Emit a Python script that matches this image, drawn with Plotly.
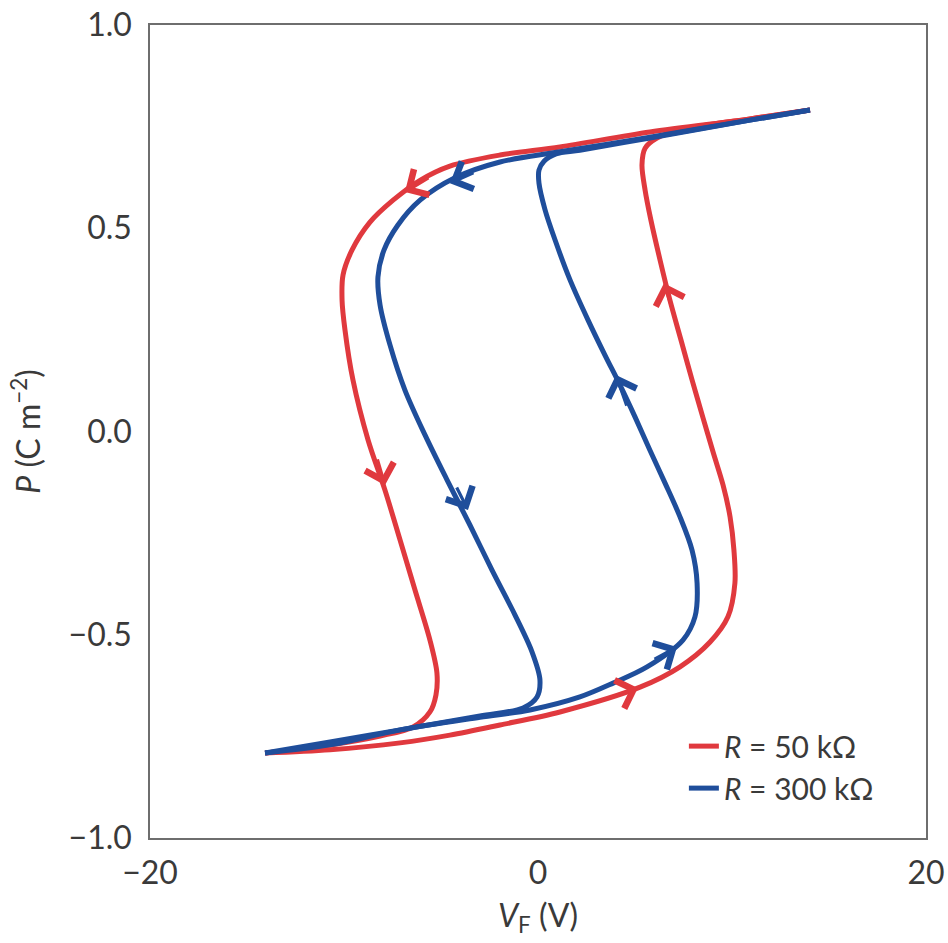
import plotly.graph_objects as go

# ---------------- data ----------------
# R = 50 kOhm, descending branch (from +Vmax to -Vmax)
red_down_v = [14.02, 10.93, 5.77, 1.13, -1.96, -4.54, -6.08, -7.47, -8.66, -9.59, -10.05,
              -10.10, -9.95, -9.54, -8.76, -7.89, -7.11, -6.34, -5.57, -5.21, -5.26, -5.57,
              -6.44, -8.14, -10.72, -14.07]
red_down_p = [0.791, 0.769, 0.737, 0.700, 0.680, 0.653, 0.618, 0.569, 0.515, 0.446, 0.385,
              0.323, 0.250, 0.127, -0.021, -0.144, -0.267, -0.390, -0.513, -0.594, -0.648, -0.690,
              -0.727, -0.749, -0.771, -0.791]
# R = 50 kOhm, ascending branch
red_up_v = [-14.07, -10.72, -7.11, -4.54, -1.96, 1.13, 5.26, 7.32, 8.87, 9.79, 10.15, 10.10,
            9.90, 9.54, 9.02, 8.51, 7.94, 7.37, 6.80, 6.29, 5.82, 5.52, 5.36, 5.52, 6.13,
            7.32, 10.93, 14.02]
red_up_p = [-0.791, -0.783, -0.766, -0.747, -0.722, -0.690, -0.629, -0.579, -0.518, -0.456,
            -0.373, -0.292, -0.210, -0.132, -0.050, 0.033, 0.127, 0.225, 0.323, 0.422, 0.520,
            0.594, 0.656, 0.697, 0.722, 0.742, 0.769, 0.791]

# R = 300 kOhm, descending branch
blue_down_v = [14.02, 10.93, 5.77, 1.13, -1.96, -4.28, -6.08, -7.22, -7.94, -8.25, -8.14,
               -7.63, -6.86, -5.82, -4.69, -3.51, -2.37, -1.19, -0.31, 0.10, -0.05, -0.77,
               -2.99, -7.11, -10.72, -14.07]
blue_down_p = [0.791, 0.766, 0.724, 0.688, 0.663, 0.624, 0.569, 0.508, 0.446, 0.380, 0.311,
               0.213, 0.102, -0.009, -0.119, -0.230, -0.341, -0.451, -0.542, -0.611, -0.653,
               -0.680, -0.700, -0.734, -0.764, -0.791]
# R = 300 kOhm, ascending branch
blue_up_v = [-14.07, -10.72, -7.11, -2.99, -0.41, 2.16, 3.87, 5.62, 7.47, 8.09, 8.20, 7.94,
             7.32, 6.55, 5.77, 5.00, 4.23, 3.45, 2.58, 1.65, 0.88, 0.36, 0.05, 0.05, 0.31,
             0.93, 2.16, 5.77, 10.93, 14.02]
blue_up_p = [-0.791, -0.771, -0.734, -0.703, -0.685, -0.653, -0.619, -0.579, -0.513, -0.456,
             -0.373, -0.292, -0.210, -0.127, -0.046, 0.036, 0.114, 0.188, 0.274, 0.373, 0.471,
             0.546, 0.611, 0.643, 0.665, 0.683, 0.692, 0.722, 0.766, 0.791]

# direction arrows: tip (x, y) and a point just before it along the loop (tail)
red_arrow_tip_v = [-6.86, -7.89, 5.15, 6.49]
red_arrow_tip_p = [0.589, -0.132, -0.631, 0.365]
red_arrow_tail_v = [-5.57, -8.30, 3.81, 6.91]
red_arrow_tail_p = [0.626, -0.065, -0.653, 0.304]

blue_arrow_tip_v = [-4.54, -3.61, 7.16, 4.02]
blue_arrow_tip_p = [0.611, -0.193, -0.530, 0.139]
blue_arrow_tail_v = [-3.25, -4.23, 5.93, 4.60]
blue_arrow_tail_p = [0.638, -0.134, -0.562, 0.060]

series_names = ["<i>R</i> = 50 kΩ", "<i>R</i> = 300 kΩ"]
x_ticks = [-20, 0, 20]
y_ticks = [1.0, 0.5, 0.0, -0.5, -1.0]

RED = "#e0393e"
BLUE = "#1f4e9b"
FONT = "Lato"
TXT = "#3a3a3a"

fig = go.Figure()

def add_branch(vx, py, color, name, show):
    fig.add_trace(go.Scatter(
        x=vx, y=py, mode="lines", name=name, legendgroup=name, showlegend=show,
        line=dict(color=color, width=5, shape="spline", smoothing=0.9),
        hoverinfo="skip",
    ))

add_branch(red_down_v, red_down_p, RED, series_names[0], True)
add_branch(red_up_v, red_up_p, RED, series_names[0], False)
add_branch(blue_down_v, blue_down_p, BLUE, series_names[1], True)
add_branch(blue_up_v, blue_up_p, BLUE, series_names[1], False)

annotations = []
for tv, tp, av, ap, col in (
    [(a, b, c, d, RED) for a, b, c, d in zip(red_arrow_tip_v, red_arrow_tip_p, red_arrow_tail_v, red_arrow_tail_p)]
    + [(a, b, c, d, BLUE) for a, b, c, d in zip(blue_arrow_tip_v, blue_arrow_tip_p, blue_arrow_tail_v, blue_arrow_tail_p)]
):
    annotations.append(dict(
        x=tv, y=tp, ax=av, ay=ap, xref="x", yref="y", axref="x", ayref="y",
        text="", showarrow=True, arrowhead=4, arrowsize=1.8, arrowwidth=3.2,
        arrowcolor=col, standoff=0, startstandoff=0,
    ))

fig.update_layout(
    width=948, height=943,
    margin=dict(l=150, r=22, t=25, b=105),
    paper_bgcolor="white", plot_bgcolor="white",
    font=dict(family=FONT, size=32, color=TXT),
    showlegend=True,
    legend=dict(
        x=0.688, y=0.145, xanchor="left", yanchor="top",
        bgcolor="rgba(0,0,0,0)", borderwidth=0,
        font=dict(family=FONT, size=30, color=TXT),
        itemwidth=30, tracegroupgap=0,
    ),
    annotations=annotations,
)

fig.update_xaxes(
    range=[-20, 20], tickvals=x_ticks, ticktext=["−20", "0", "20"],
    showline=True, linecolor="#6e6e6e", linewidth=1.5, mirror=True,
    showgrid=False, zeroline=False, ticks="", ticklabelstandoff=6, automargin=False,
    tickfont=dict(family=FONT, size=32, color=TXT),
    title=dict(text="<i>V</i><sub>F</sub> (V)", font=dict(family=FONT, size=32, color=TXT), standoff=14),
)
fig.update_yaxes(
    range=[-1.0, 1.0], tickvals=y_ticks, tickformat=".1f",
    showline=True, linecolor="#6e6e6e", linewidth=1.5, mirror=True,
    showgrid=False, zeroline=False, ticks="", ticklabelstandoff=10, automargin=False,
    tickfont=dict(family=FONT, size=32, color=TXT),
    title=dict(text="<i>P</i> (C m<sup>−2</sup>)", font=dict(family=FONT, size=32, color=TXT), standoff=18),
)

fig.write_html("out.html")
